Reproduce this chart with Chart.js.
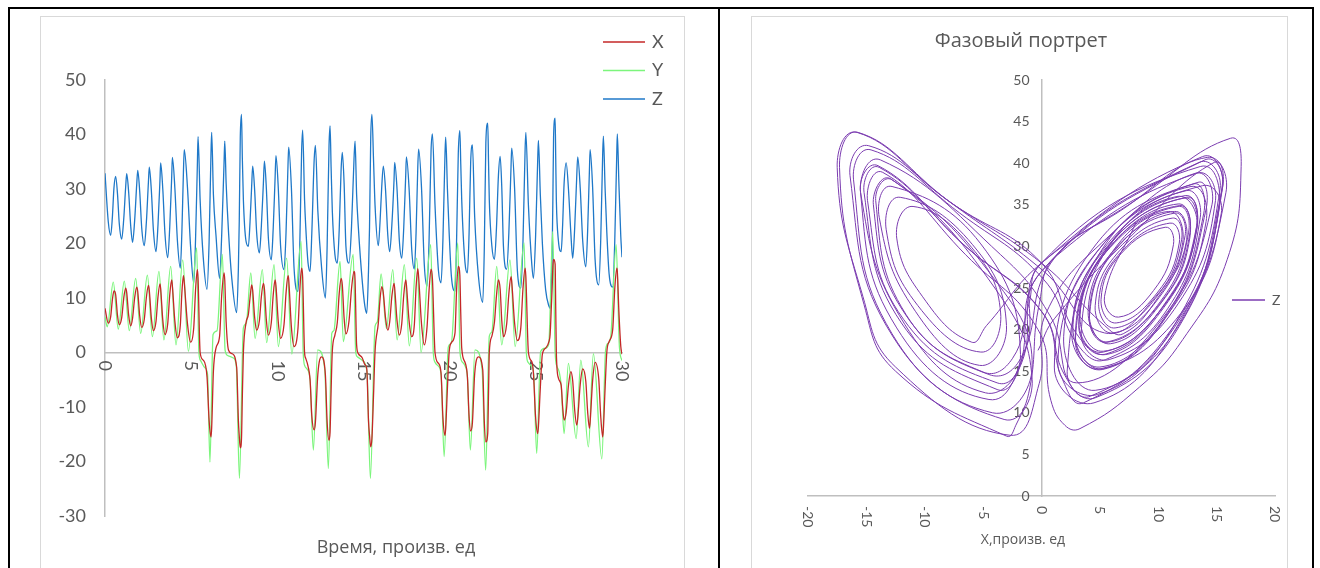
<!DOCTYPE html>
<html>
<head>
<meta charset="utf-8">
<script src="https://cdn.jsdelivr.net/npm/chart.js@4.4.1/dist/chart.umd.min.js"></script>
<style>
  body { margin: 0; background: #fff; width: 1320px; height: 568px; overflow: hidden; position: relative; }
  .rule { position: absolute; background: #000; }
  .frame { position: absolute; border: 1px solid #d9d9d9; background: #fff; }
  canvas { position: absolute; left: 0; top: 0; }
</style>
</head>
<body>
<div class="rule" style="left:8px; top:7px; width:1306px; height:2px;"></div>
<div class="rule" style="left:8px; top:7px; width:2px; height:570px;"></div>
<div class="rule" style="left:718px; top:7px; width:2px; height:570px;"></div>
<div class="rule" style="left:1312px; top:7px; width:2px; height:570px;"></div>

<div class="frame" style="left:40px; top:16px; width:643px; height:560px;">
  <canvas id="timeChart" width="643" height="548"></canvas>
</div>
<div class="frame" style="left:751px; top:16px; width:535px; height:560px;">
  <canvas id="phaseChart" width="535" height="548"></canvas>
</div>

<script>
// X and Z at the same moments (extremes plus points between them)
const timeXZ = [
  0.00, 0.19, 0.33, 0.425, 0.52, 0.62, 0.725, 0.83, 0.97, 1.085, 1.20, 1.26, 1.375, 1.49, 1.60, 1.72,
  1.84, 1.90, 2.015, 2.13, 2.28, 2.40, 2.52, 2.57, 2.69, 2.81, 2.96, 3.075, 3.19, 3.23, 3.355, 3.48,
  3.64, 3.755, 3.87, 3.91, 4.055, 4.20, 4.37, 4.46, 4.55, 4.60, 4.785, 4.97, 5.15, 5.255, 5.36, 5.40,
  5.52, 5.70, 5.92, 6.04, 6.15, 6.19, 6.29, 6.44, 6.65, 6.77, 6.91, 6.95, 7.03, 7.17, 7.36, 7.64,
  7.74, 7.79, 7.85, 7.92, 7.97, 8.03, 8.18, 8.32, 8.415, 8.51, 8.57, 8.685,
  8.80, 8.96, 9.075, 9.19, 9.25, 9.365, 9.48, 9.65, 9.76, 9.87, 9.92, 10.055, 10.19, 10.39, 10.505,
  10.62, 10.66, 10.815, 10.97, 11.20, 11.305, 11.41, 11.47,
  11.58, 11.65, 11.78, 11.90, 12.00, 12.14, 12.21, 12.35, 12.57, 12.79, 12.89, 13.00, 13.06, 13.12,
  13.19, 13.34, 13.48, 13.59, 13.70, 13.77, 13.875, 13.98, 14.16, 14.305, 14.45, 14.51, 14.60, 14.70,
  14.93, 15.08, 15.19, 15.29, 15.35, 15.42, 15.49, 15.58, 15.67, 15.86, 15.96, 16.06, 16.15, 16.28,
  16.41, 16.52, 16.645, 16.77, 16.81, 16.945, 17.08, 17.22, 17.335, 17.45, 17.49, 17.645, 17.80, 17.95,
  18.05, 18.15, 18.20, 18.365, 18.53, 18.69, 18.805, 18.92, 19.00,
  19.15, 19.35, 19.50, 19.61, 19.73, 19.77, 19.87, 19.97, 20.10, 20.31, 20.40, 20.50, 20.59, 20.645,
  20.70, 20.89, 21.03, 21.125, 21.22, 21.32, 21.45, 21.67, 21.92, 22.01, 22.10, 22.21, 22.255, 22.30,
  22.45, 22.60, 22.715, 22.83, 22.93, 23.025, 23.12, 23.31, 23.435, 23.56, 23.60, 23.765, 23.93, 24.13,
  24.255, 24.38, 24.42,
  24.57, 24.77, 24.86, 24.985, 25.11, 25.15, 25.26, 25.38, 25.57, 25.76, 25.83, 25.90, 25.95, 25.99,
  26.03, 26.12, 26.155, 26.19, 26.31, 26.47, 26.555, 26.64, 26.76, 26.895,
  27.03, 27.14, 27.255, 27.37, 27.43, 27.575, 27.72, 27.90, 28.005, 28.11, 28.15, 28.295, 28.44, 28.65,
  28.765, 28.88, 28.92, 29.02, 29.12, 29.25, 29.46, 29.58, 29.70, 29.73, 29.82, 29.93, 30.00
];
const seriesX = [
  8.1, 5.4, 6.6, 9.6, 11.3, 10.6, 6.8, 5.1, 6.4, 9.9, 11.8, 11.0, 6.8, 4.9, 6.3, 10.0,
  12.0, 11.2, 6.7, 4.6, 6.1, 10.1, 12.3, 11.4, 6.3, 4.0, 5.7, 10.2, 12.6, 11.7, 5.9, 3.3,
  5.3, 10.5, 13.3, 12.2, 5.7, 2.7, 5.0, 10.9, 14.1, 12.8, 5.3, 1.9, 4.6, 11.5, 15.2, 13.6,
  0.0, -1.4, -4.5, -12.4, -15.5, -13.8, -3.5, 0.8, 3.0, 10.4, 14.6, 13.2, 5.6, 0.4, -0.2, -2.7,
  -12.5, -15.3, -17.5, -15.8, -8.0, 0.0, 5.4, 7.0, 10.0, 12.4, 11.4, 6.4,
  4.1, 5.9, 10.3, 12.7, 11.7, 5.9, 3.2, 5.5, 10.5, 13.3, 12.3, 5.6, 2.6, 5.2, 10.9,
  14.1, 13.4, 4.7, 1.1, 4.5, 11.5, 15.5, 13.8,
  0.0, -1.1, -2.5, -5.0, -11.6, -14.2, -12.8, -4.0, -0.8, -4.2, -12.8, -16.1, -14.6, -7.0,
  0.2, 3.2, 5.5, 10.8, 13.6, 12.4, 6.3, 3.4, 5.8, 11.7, 14.9, 13.3, 1.4, -0.2,
  -1.0, -2.2, -3.0, -12.5, -15.2, -17.3, -15.7, -8.0, 0.2, 5.4, 9.8, 12.1, 10.9, 6.3,
  4.1, 5.6, 10.3, 12.7, 11.8, 5.9, 3.2, 5.3, 10.5, 13.3, 12.4, 5.8, 2.9, 5.1,
  11.9, 15.4, 13.8, 5.3, 1.4, 4.8, 11.4, 15.3, 13.5,
  0.0, -2.0, -3.8, -12.0, -15.2, -13.9, -6.5, 0.1, 1.8, 3.6, 11.4, 15.8, 14.2, 7.0,
  0.8, -1.8, -4.5, -11.6, -14.4, -12.9, -4.0, -0.8, -3.2, -12.7, -16.4, -14.8, -7.5, 0.0,
  3.0, 5.6, 10.4, 13.3, 11.6, 5.8, 2.9, 5.3, 10.8, 13.9, 13.0, 5.5, 2.2, 4.6,
  11.8, 15.5, 14.0,
  0.0, -1.7, -3.8, -11.8, -14.9, -13.6, -6.5, -0.3, 0.8, 2.0, 3.3, 8.4, 12.1, 15.9,
  17.1, 16.2, 8.0, 0.0, -4.7, -6.0, -9.9, -12.4, -11.0, -6.0,
  -3.5, -5.2, -10.6, -13.3, -12.1, -5.9, -3.0, -5.3, -10.8, -13.9, -12.8, -5.2, -1.8, -4.8,
  -11.7, -15.5, -14.0, -6.5, 0.1, 2.0, 4.2, 11.7, 15.5, 14.8, 7.5, 1.1, -0.3
];
const seriesZ = [
  32.9, 24.0, 21.5, 24.7, 30.2, 32.3, 29.1, 23.6, 20.8, 24.4, 30.4, 32.8, 29.3, 23.3, 20.2, 24.2,
  30.8, 33.4, 29.5, 22.9, 19.6, 23.9, 31.3, 34.0, 29.7, 22.4, 18.5, 23.4, 31.7, 34.8, 29.9, 21.8,
  17.4, 22.9, 32.2, 35.8, 30.1, 20.6, 15.5, 22.0, 33.0, 37.2, 30.3, 19.2, 12.7, 20.8, 34.5, 39.6,
  28.0, 17.5, 11.6, 20.2, 36.5, 40.4, 29.0, 21.5, 13.6, 21.4, 35.0, 38.8, 31.0, 22.0, 13.5, 7.3,
  15.5, 24.0, 39.5, 43.7, 35.5, 28.0, 20.5, 19.5, 23.9, 30.5, 34.2, 29.7,
  22.0, 18.3, 23.3, 31.0, 35.1, 30.0, 21.0, 17.0, 22.7, 32.0, 36.1, 30.2, 19.5, 15.2, 22.0,
  34.5, 37.7, 30.3, 15.5, 11.2, 20.1, 37.0, 40.8,
  28.0, 23.0, 16.5, 14.9, 21.8, 35.5, 38.0, 26.0, 15.5, 10.0, 19.5, 38.0, 41.6, 34.0,
  26.0, 18.0, 16.4, 22.5, 33.5, 36.7, 31.0, 19.5, 16.4, 23.1, 35.5, 38.8, 29.0, 23.0,
  13.0, 8.5, 7.2, 15.0, 23.0, 39.5, 43.7, 35.5, 27.0, 19.6, 24.0, 30.5, 34.2, 29.8,
  21.5, 18.5, 23.4, 31.5, 34.9, 30.0, 20.5, 17.3, 22.9, 32.5, 35.9, 30.1, 18.8, 15.3,
  21.9, 34.0, 37.3, 30.3, 16.0, 12.2, 20.6, 37.0, 40.1,
  27.0, 15.0, 12.8, 20.8, 36.5, 39.5, 30.0, 22.0, 14.0, 11.2, 20.3, 36.5, 40.7, 34.5,
  28.0, 16.5, 14.6, 21.7, 35.0, 38.1, 25.0, 14.0, 9.2, 19.1, 38.5, 42.1, 35.0, 28.0,
  19.5, 17.1, 22.8, 32.5, 36.0, 30.2, 19.5, 15.3, 22.0, 34.0, 37.5, 30.3, 15.0, 11.8,
  20.4, 37.5, 40.4,
  27.0, 16.0, 13.6, 21.2, 35.5, 38.9, 29.0, 20.0, 11.5, 8.5, 8.1, 13.1, 18.8, 28.4,
  39.6, 43.0, 35.5, 28.0, 20.5, 18.5, 23.4, 31.0, 34.8, 29.9,
  22.0, 17.3, 22.9, 32.0, 35.9, 30.2, 20.5, 15.7, 22.2, 33.5, 37.2, 30.3, 17.0, 12.4,
  20.6, 36.5, 39.7, 30.0, 22.0, 14.5, 12.0, 20.4, 37.0, 40.1, 31.0, 21.3, 17.5
];

// Y peaks and dips fall at other moments, so Y keeps its own sample times
const timeY = [
  0.00, 0.13, 0.48, 0.77, 1.12, 1.41, 1.78, 2.07, 2.46, 2.75, 3.13, 3.42, 3.81, 4.12, 4.51, 4.84, 5.32,
  5.45, 5.55, 5.80, 5.95, 6.09, 6.27, 6.50, 6.81, 6.97, 7.15, 7.45, 7.62, 7.80, 8.03, 8.20, 8.46,
  8.71, 9.13, 9.38, 9.81, 10.06, 10.54, 10.84, 11.38,
  11.50, 11.60, 11.72, 11.90, 12.09, 12.34, 12.75, 12.96, 13.16, 13.28, 13.64, 13.83, 14.40,
  14.55, 14.65, 14.95, 15.20, 15.40, 15.67, 15.80, 16.02,
  16.33, 16.70, 16.95, 17.37, 17.66, 18.09, 18.34, 18.90,
  19.05, 19.15, 19.35, 19.50, 19.68, 19.92, 20.10, 20.47, 20.60, 20.75, 20.90, 21.03, 21.20, 21.47,
  21.88, 22.09, 22.30, 22.45, 22.73,
  23.02, 23.50, 23.80, 24.32,
  24.45, 24.55, 24.75, 24.88, 25.05, 25.28, 25.55, 25.75, 25.98, 26.12, 26.22, 26.35, 26.47, 26.64,
  26.89, 27.34, 27.61, 28.05, 28.34, 28.83, 29.05, 29.20, 29.35, 29.66, 29.85, 30.00
];
const seriesY = [
  6.6, 4.7, 12.9, 4.3, 13.1, 4.0, 13.6, 3.5, 14.2, 2.9, 14.9, 2.3, 15.8, 1.4, 17.0, 0.2, 19.2,
  0.0, -1.5, -2.8, -4.0, -20.1, 3.3, 4.0, 18.0, 0.4, -0.6, -1.0, -2.5, -23.1, 4.5, 5.4, 14.6,
  2.6, 15.2, 1.8, 16.1, 1.1, 17.3, -0.3, 20.4,
  0.0, -2.5, -3.0, -5.0, -17.9, 0.5, -3.0, -21.3, 3.5, 4.0, 16.7, 2.0, 18.0,
  0.0, -0.8, -1.5, -3.5, -23.1, 4.8, 5.6, 14.4,
  4.4, 15.2, 2.3, 16.1, 1.2, 17.3, 0.0, 19.8,
  0.0, -1.8, -2.5, -4.0, -19.1, 1.0, 1.8, 20.1, 0.0, -1.8, -2.5, -4.5, -17.9, 0.5,
  -3.0, -21.6, 3.0, 3.8, 15.8,
  1.4, 17.0, 1.1, 20.1,
  0.0, -1.8, -2.5, -4.0, -18.5, 0.2, 0.8, 1.5, 22.2, 0.0, -2.5, -3.5, -6.0, -14.9,
  -2.0, -15.8, -1.4, -17.3, -0.2, -19.5, 0.5, 1.7, 3.0, 19.8, 1.0, -1.5
];

const timeTicks = { min: 0, max: 30, step: 5 };
const valueTicks = { min: -30, max: 50, step: 10 };
const phaseXTicks = { min: -20, max: 20, step: 5 };
const phaseZTicks = { min: 0, max: 50, step: 5 };

const textGrey = '#595959';
const axisGrey = '#bfbfbf';
const fam = 'Lato, Roboto, sans-serif';
const famCyr = '"Open Sans", "Noto Sans", sans-serif';

// Excel look: x tick labels turned clockwise, legend and titles placed by hand
function decorPlugin(cfg) {
  return {
    id: 'decor',
    beforeDatasetsDraw(chart) {
      const ctx = chart.ctx, xs = chart.scales.x, ys = chart.scales.y;
      ctx.save();
      ctx.fillStyle = textGrey;
      ctx.font = cfg.tickSize + 'px ' + fam;
      const base = ys.getPixelForValue(0);
      ctx.textAlign = 'left';
      ctx.textBaseline = 'middle';
      xs.ticks.forEach(t => {
        ctx.save();
        ctx.translate(xs.getPixelForValue(t.value), base + cfg.xGap);
        ctx.rotate(Math.PI / 2);
        ctx.fillText(String(t.value), 0, 0);
        ctx.restore();
      });
      if (cfg.yLabelsAtZero) {
        const x0 = xs.getPixelForValue(0) - cfg.yGap;
        ctx.textAlign = 'right';
        ys.ticks.forEach(t => ctx.fillText(String(t.value), x0, ys.getPixelForValue(t.value)));
      }
      ctx.restore();
    },
    afterDraw(chart) {
      const ctx = chart.ctx;
      ctx.save();
      ctx.font = cfg.legendSize + 'px ' + fam;
      ctx.textBaseline = 'middle';
      ctx.textAlign = 'left';
      chart.data.datasets.forEach((ds, i) => {
        const y = cfg.legend.y + i * cfg.legend.step;
        ctx.strokeStyle = ds.borderColor;
        ctx.lineWidth = 1.5;
        ctx.beginPath();
        ctx.moveTo(cfg.legend.x, y);
        ctx.lineTo(cfg.legend.x + cfg.legend.len, y);
        ctx.stroke();
        ctx.fillStyle = textGrey;
        ctx.fillText(ds.label, cfg.legend.x + cfg.legend.len + 7, y);
      });
      ctx.textAlign = 'center';
      ctx.font = cfg.titleSize + 'px ' + famCyr;
      ctx.fillText(cfg.axisTitle, cfg.titleX, cfg.titleY);
      if (cfg.chartTitle) {
        ctx.font = cfg.chartTitleSize + 'px ' + famCyr;
        ctx.fillText(cfg.chartTitle, cfg.chartTitleX, cfg.chartTitleY);
      }
      ctx.restore();
    }
  };
}

const pts = (xs, ys) => xs.map((v, i) => ({ x: v, y: ys[i] }));

new Chart(document.getElementById('timeChart'), {
  type: 'scatter',
  data: {
    datasets: [
      { label: 'X', data: pts(timeXZ, seriesX), borderColor: '#c42727' },
      { label: 'Y', data: pts(timeY, seriesY), borderColor: '#7cf57c' },
      { label: 'Z', data: pts(timeXZ, seriesZ), borderColor: '#1f78c8' }
    ]
  },
  options: {
    responsive: false,
    animation: false,
    showLine: true,
    elements: {
      point: { radius: 0 },
      line: { borderWidth: 1.3, cubicInterpolationMode: 'monotone' }
    },
    layout: { padding: { left: 0, top: 63, right: 62, bottom: 49 } },
    plugins: { legend: { display: false }, tooltip: { enabled: false } },
    scales: {
      x: {
        type: 'linear', position: { y: 0 }, min: timeTicks.min, max: timeTicks.max,
        ticks: { display: false, stepSize: timeTicks.step },
        grid: { display: false, drawTicks: false },
        border: { color: axisGrey, width: 1.5 }
      },
      y: {
        type: 'linear', position: 'left', min: valueTicks.min, max: valueTicks.max,
        ticks: { stepSize: valueTicks.step, color: textGrey, font: { family: fam, size: 18 }, padding: 19 },
        grid: { display: false, drawTicks: false },
        border: { color: axisGrey, width: 1.5 },
        afterFit(s) { s.width = 64; }
      }
    }
  },
  plugins: [decorPlugin({
    tickSize: 18, xGap: 8, yLabelsAtZero: false,
    legendSize: 18, legend: { x: 562, y: 25, step: 28.5, len: 42 },
    titleSize: 18, axisTitle: 'Время, произв. ед', titleX: 355, titleY: 531
  })]
});

new Chart(document.getElementById('phaseChart'), {
  type: 'scatter',
  data: {
    datasets: [
      { label: 'Z', data: pts(seriesX, seriesZ), borderColor: '#7b3cb0', borderWidth: 1, tension: 0.45, showLine: true }
    ]
  },
  options: {
    responsive: false,
    animation: false,
    elements: { point: { radius: 0 } },
    layout: { padding: { left: 56, top: 63, right: 12, bottom: 0 } },
    plugins: { legend: { display: false }, tooltip: { enabled: false } },
    scales: {
      x: {
        type: 'linear', position: 'bottom', min: phaseXTicks.min, max: phaseXTicks.max,
        ticks: { display: false, stepSize: phaseXTicks.step },
        grid: { display: false, drawTicks: false },
        border: { color: axisGrey, width: 1.5 },
        afterFit(s) { s.height = 69; }
      },
      y: {
        type: 'linear', position: { x: 0 }, min: phaseZTicks.min, max: phaseZTicks.max,
        ticks: { display: false, stepSize: phaseZTicks.step },
        grid: { display: false, drawTicks: false },
        border: { color: axisGrey, width: 1.5 }
      }
    }
  },
  plugins: [decorPlugin({
    tickSize: 14, xGap: 10, yLabelsAtZero: true, yGap: 12,
    legendSize: 14, legend: { x: 480, y: 283, step: 0, len: 33 },
    titleSize: 14, axisTitle: 'X,произв. ед', titleX: 271, titleY: 523,
    chartTitle: 'Фазовый портрет', chartTitleSize: 20, chartTitleX: 269, chartTitleY: 24
  })]
});
</script>
</body>
</html>
